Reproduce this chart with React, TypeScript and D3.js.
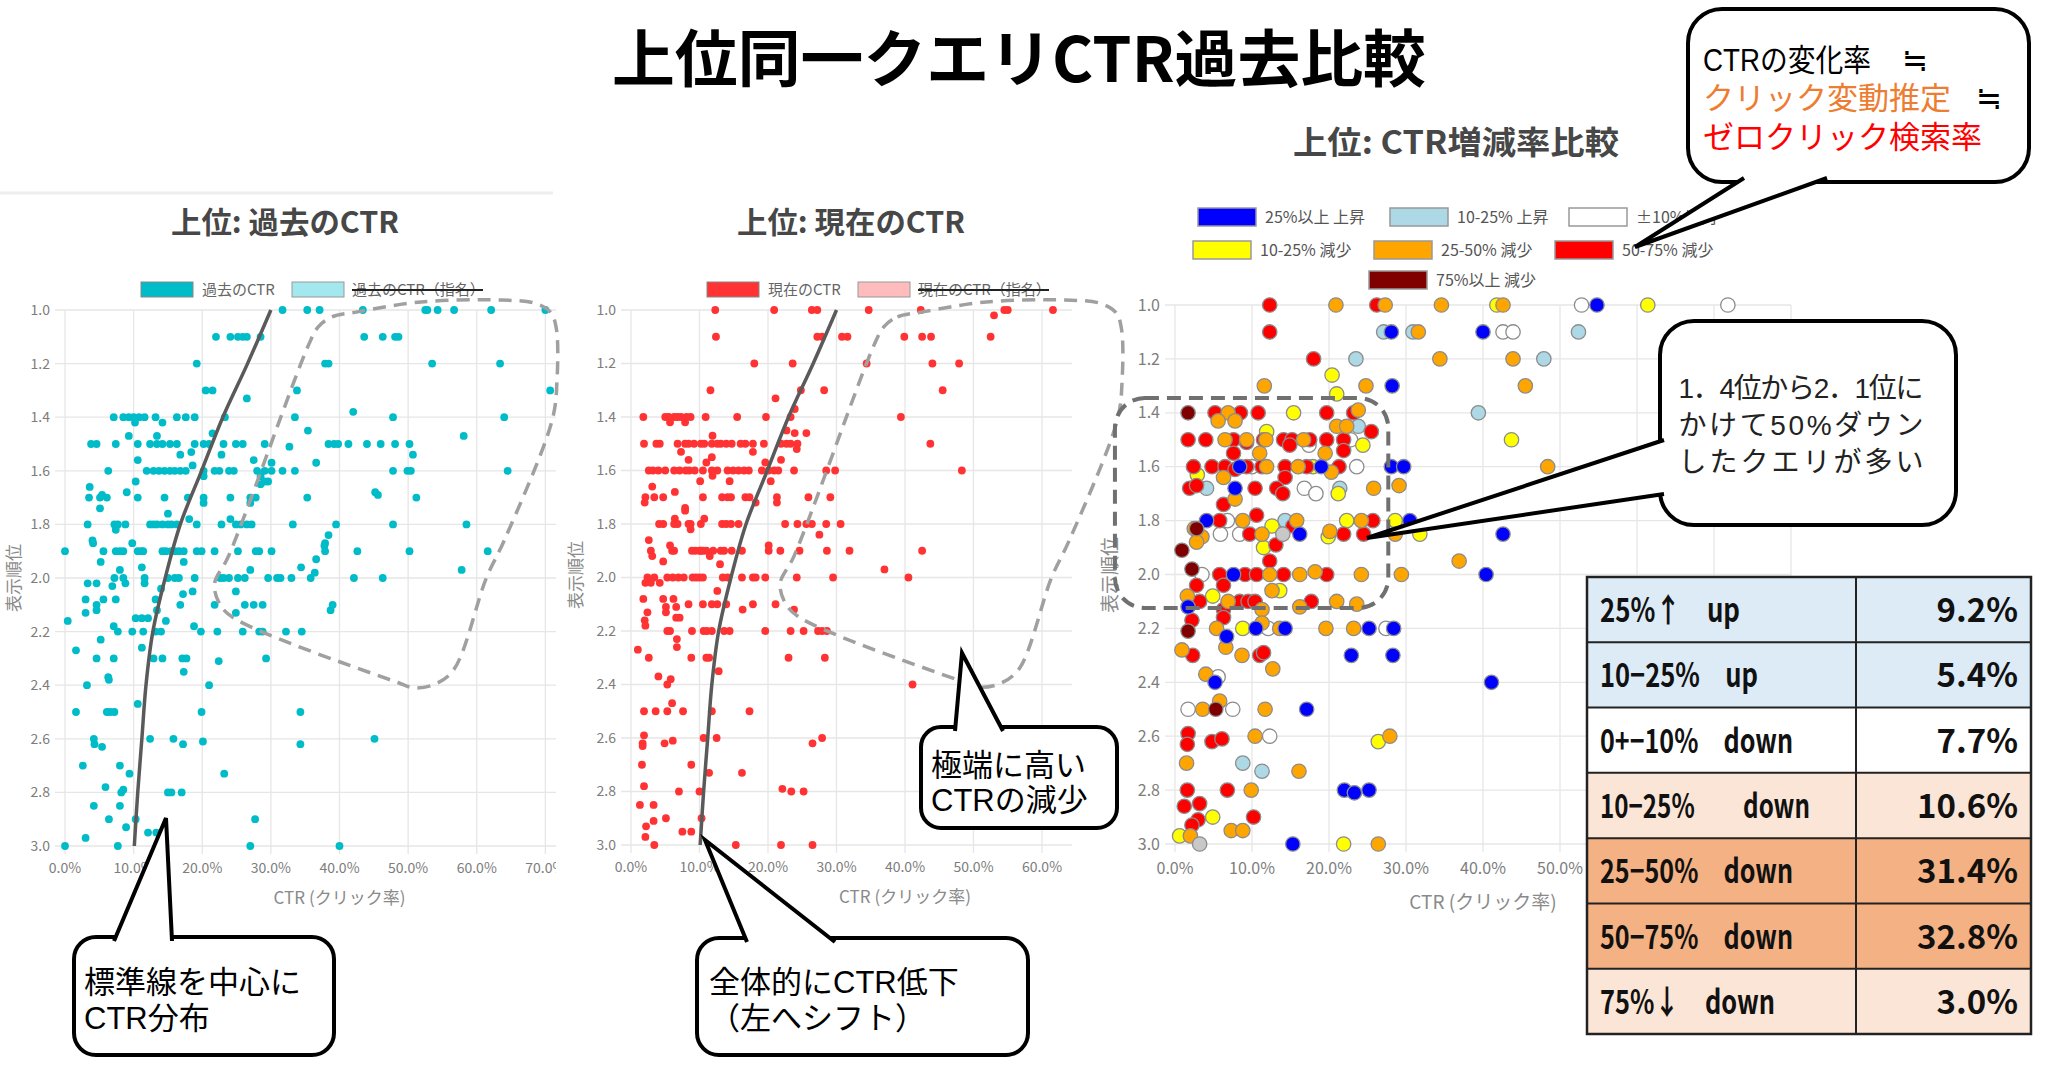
import { useEffect, useRef } from 'react';
import * as d3 from 'd3';

// 参照画像と同じキャンバス
const W = 2048;
const H = 1066;
const FONT = '"Noto Sans CJK JP", "Noto Sans", sans-serif';
// 吹き出し用: 欧文は細めの書体、和文はCJKにフォールバック
const NOTE_FONT = '"Liberation Sans Narrow", "Liberation Sans", "Noto Sans CJK JP", sans-serif';

type Row = [number, number[]]; // [表示順位, CTR(%)の一覧]
type Pt = [number, number];     // [CTR(%), 表示順位]

const posTicks = [1.0, 1.2, 1.4, 1.6, 1.8, 2.0, 2.2, 2.4, 2.6, 2.8, 3.0];
const ctrTicks = [0, 10, 20, 30, 40, 50, 60, 70, 80];

// 過去のCTR
const pastCtr: Row[] = [
  [1.0, [31.7, 35.3, 37.1, 43.4, 52.5, 52.8, 54.3, 56.7, 62.1, 70]],
  [1.1, [22.0, 24.1, 25.2, 25.9, 26.5, 28.5, 43.6, 46.3, 48.1, 48.6]],
  [1.2, [19.2, 37.9, 38.4, 53.5, 63.4]],
  [1.3, [20.5, 21.5, 33.8, 70.7]],
  [1.33, [26.5]],
  [1.38, [42]],
  [1.4, [7.1, 8.5, 9.3, 10.0, 10.8, 11.6, 13.2, 16.3, 17.6, 18.9, 23.3, 33.5, 47.8, 64]],
  [1.42, [10.2, 14.2]],
  [1.45, [35.4]],
  [1.46, [21.5]],
  [1.47, [9.3, 13.4, 58.1]],
  [1.5, [3.8, 4.6, 7.4, 10.6, 12.4, 13.4, 14.2, 15.3, 16.3, 18.9, 20.2, 21.0, 23.1, 24.9, 25.9, 29.1, 38.4, 39.2, 39.8, 41.3, 44.0, 46.0, 48.1, 50.2]],
  [1.51, [32.7]],
  [1.53, [18.4]],
  [1.54, [16.8, 22.8, 50.7]],
  [1.56, [10.6, 27.5]],
  [1.57, [30.1, 36.6]],
  [1.58, [18.6]],
  [1.6, [6.3, 11.9, 12.9, 13.7, 14.5, 15.3, 16.0, 16.8, 17.6, 20.2, 21.8, 22.5, 23.9, 24.6, 28.0, 29.1, 30.1, 31.7, 33.5, 47.8, 49.9, 50.4, 64.5]],
  [1.62, [20.2, 28.5]],
  [1.64, [10.3, 29.1, 29.6]],
  [1.65, [28.5]],
  [1.66, [3.6]],
  [1.68, [9.0, 45.2]],
  [1.69, [5.4, 45.6]],
  [1.7, [3.5, 5.1, 6.1, 10.6, 14.5, 17.9, 20.2, 24.1, 27.0, 27.8, 35.3, 51.2]],
  [1.72, [20.2, 27.0]],
  [1.74, [5.1]],
  [1.76, [15.0]],
  [1.78, [18.1, 24.1]],
  [1.8, [3.3, 7.2, 7.7, 8.8, 12.4, 12.9, 13.4, 14.2, 15.0, 15.5, 16.3, 19.2, 22.8, 24.9, 25.6, 26.5, 27.2, 33.2, 39.5, 47.8, 58.5]],
  [1.82, [7.4]],
  [1.84, [38.4]],
  [1.86, [4.0]],
  [1.87, [4.1, 9.8, 37.9]],
  [1.88, [37.8]],
  [1.9, [0, 5.6, 7.4, 8.0, 8.5, 10.6, 11.1, 11.4, 14.2, 14.7, 15.5, 16.0, 16.6, 17.3, 19.2, 19.9, 21.8, 25.2, 27.8, 28.3, 30.1, 37.9, 42.6, 50.2, 61.6]],
  [1.93, [36.6]],
  [1.94, [5.2, 17.3]],
  [1.96, [11.2, 34.4]],
  [1.97, [8.0, 27.0, 57.8]],
  [1.98, [36.4]],
  [2.0, [7.2, 8.5, 11.6, 15.0, 16.0, 16.6, 18.9, 22.6, 23.1, 23.9, 25.2, 26.2, 29.6, 30.9, 31.4, 33.0, 35.8, 42.1, 46.3]],
  [2.02, [3.3, 4.6, 8.8, 11.6]],
  [2.03, [6.9]],
  [2.04, [14.0]],
  [2.05, [18.6, 24.9]],
  [2.06, [17.2]],
  [2.08, [3.0, 5.6, 7.4, 13.2]],
  [2.1, [4.6, 16.8, 21.8, 26.2, 27.5, 28.8, 39.0]],
  [2.12, [4.6, 13.4, 38.7]],
  [2.13, [3.0, 24.9]],
  [2.15, [10.3, 11.2, 12.1]],
  [2.16, [0.4, 14.7]],
  [2.18, [7.1, 18.8]],
  [2.2, [7.7, 9.8, 11.4, 13.2, 14.0, 19.8, 22.2, 25.9, 28.3, 28.8, 32.2, 34.5]],
  [2.23, [5.2]],
  [2.26, [11.2]],
  [2.27, [1.6]],
  [2.3, [4.6, 7.1, 12.9, 14.2, 17.1, 17.7, 29.3]],
  [2.31, [22.4]],
  [2.35, [17.3]],
  [2.37, [6.3]],
  [2.38, [6.4]],
  [2.4, [3.2, 21.0]],
  [2.47, [10.6]],
  [2.5, [1.6, 6.1, 6.6, 7.2, 19.9, 34.3]],
  [2.6, [4.2, 12.4, 15.8, 45.1]],
  [2.61, [20.1]],
  [2.62, [4.3, 17.2, 34.3]],
  [2.63, [5.4]],
  [2.7, [2.6, 8.0]],
  [2.73, [9.4, 23.2]],
  [2.78, [5.9]],
  [2.79, [8.5]],
  [2.8, [8.2, 15.0, 15.5, 17.0]],
  [2.85, [4.2, 8.0]],
  [2.9, [6.4, 10.3, 27.7]],
  [2.93, [8.9]],
  [2.95, [12.1, 13.3]],
  [2.97, [3.0]],
  [3.0, [0, 7.7, 27.0, 40.0]],
];

// 現在のCTR
const currentCtr: Row[] = [
  [1.0, [12.3, 20.9, 26.4, 27.2, 34.7, 42.3, 54.5, 55.0, 61.6]],
  [1.02, [53.0]],
  [1.1, [12.4, 27.2, 27.9, 30.8, 31.6, 39.9, 42.5, 43.8, 52.5]],
  [1.2, [18.0, 23.6, 34.4, 44.0, 47.9]],
  [1.3, [11.6, 24.8, 28.2, 45.5]],
  [1.33, [21.1]],
  [1.37, [23.9]],
  [1.4, [1.8, 5.0, 5.5, 6.3, 6.8, 7.3, 8.1, 8.7, 10.9, 15.5, 19.7, 23.3, 39.4]],
  [1.42, [5.7, 7.9]],
  [1.45, [22.7]],
  [1.46, [23.9, 25.6]],
  [1.47, [11.9]],
  [1.5, [1.9, 3.7, 4.2, 6.8, 7.9, 8.4, 9.2, 10.2, 10.7, 11.8, 12.6, 13.1, 13.9, 14.7, 16.0, 16.7, 17.8, 19.4, 21.9, 22.7, 23.3, 24.3, 43.7]],
  [1.52, [24.2]],
  [1.53, [7.3, 17.8]],
  [1.55, [11.8]],
  [1.56, [8.4, 21.9]],
  [1.57, [11.0, 19.6]],
  [1.6, [2.6, 3.2, 4.0, 5.0, 6.3, 7.1, 8.0, 8.5, 9.3, 10.5, 11.8, 12.6, 14.1, 14.9, 15.7, 16.5, 17.2, 19.1, 20.1, 20.9, 21.5, 23.8, 28.5, 29.8, 48.3]],
  [1.62, [11.9]],
  [1.64, [10.1, 14.4, 20.4]],
  [1.66, [3.1]],
  [1.68, [6.4]],
  [1.7, [2.1, 3.4, 4.7, 10.5, 13.3, 14.1, 14.6, 16.7, 17.3, 21.3, 25.9, 29.1]],
  [1.72, [2.0, 18.2, 21.3]],
  [1.74, [7.9]],
  [1.75, [7.9]],
  [1.78, [6.4, 10.7]],
  [1.8, [4.1, 4.7, 6.3, 6.8, 8.4, 8.7, 10.2, 13.3, 13.9, 14.6, 15.7, 22.5, 24.3, 25.6, 26.4, 28.5, 30.6]],
  [1.82, [8.7]],
  [1.84, [27.5]],
  [1.86, [2.6]],
  [1.88, [5.7, 20.1]],
  [1.9, [2.9, 6.0, 6.3, 8.9, 9.4, 10.0, 10.2, 10.5, 11.0, 12.0, 13.1, 13.6, 14.7, 16.2, 20.1, 21.8, 24.6, 28.6, 31.9, 42.5]],
  [1.92, [3.1, 11.5]],
  [1.94, [4.7]],
  [1.95, [13.0]],
  [1.97, [37.0]],
  [2.0, [2.4, 3.4, 5.3, 6.1, 6.9, 7.7, 9.0, 9.5, 10.0, 10.5, 13.4, 14.1, 16.2, 17.8, 18.2, 19.6, 24.2, 29.5, 40.5]],
  [2.02, [2.1, 2.9, 4.2]],
  [2.05, [12.6]],
  [2.08, [1.8, 4.7, 6.2]],
  [2.1, [8.4, 10.5, 11.8, 12.6, 13.9, 17.8, 21.1]],
  [2.11, [5.1, 6.6]],
  [2.12, [16.3, 23.8]],
  [2.13, [2.4, 5.1]],
  [2.15, [6.6, 7.1]],
  [2.16, [2.0]],
  [2.18, [2.1]],
  [2.2, [5.3, 5.7, 8.9, 10.6, 11.1, 11.8, 13.6, 14.4, 19.6, 23.3, 25.2, 27.3, 27.9, 28.6]],
  [2.23, [6.7]],
  [2.26, [6.7]],
  [2.27, [1.0]],
  [2.3, [2.6, 8.8, 11.0, 11.4, 23.0, 28.3]],
  [2.35, [12.8]],
  [2.37, [4.0]],
  [2.38, [5.8]],
  [2.4, [5.3, 41.1]],
  [2.47, [6.0]],
  [2.5, [1.9, 3.6, 5.3, 7.6, 11.8, 17.3]],
  [2.59, [1.9]],
  [2.6, [10.6, 12.5, 27.9]],
  [2.61, [6.1]],
  [2.62, [1.7, 4.9, 26.5]],
  [2.63, [1.7]],
  [2.7, [1.6, 8.8]],
  [2.73, [11.4, 16.2]],
  [2.78, [1.9]],
  [2.79, [22.1]],
  [2.8, [7.0, 10.0, 23.4, 25.2]],
  [2.85, [1.3, 3.3]],
  [2.9, [5.1, 10.3]],
  [2.91, [3.3]],
  [2.93, [2.2]],
  [2.95, [7.5, 8.8]],
  [2.97, [2.1]],
  [3.0, [3.4, 15.3, 21.9, 26.5]],
];

// 標準線 [表示順位, CTR(%)]
const baselineCtr: Pt[] = [
  [1.0, 30], [1.2, 26.6], [1.4, 23], [1.6, 19.9], [1.8, 16.8], [2.0, 14.6],
  [2.2, 12.8], [2.4, 11.8], [2.6, 11.2], [2.8, 10.6], [3.0, 10.1],
];

// 極端に高いCTRの領域 [CTR(%), 表示順位]
const highCtrZone: Pt[] = [
  [36.9, 1.063], [38.9, 1.026], [42.6, 1.007], [51.9, 0.97], [63.4, 0.963], [68.5, 0.975],
  [70.8, 1.01], [71.6, 1.07], [71.7, 1.26], [71.0, 1.41], [64.0, 1.86], [61.4, 2.0],
  [56.7, 2.34], [54.0, 2.395], [50.9, 2.41], [48.5, 2.39], [24.4, 2.146], [22.4, 2.09],
  [21.8, 2.02], [23.8, 1.92], [35.5, 1.13],
];

// CTR増減率 [CTR(%), 表示順位]
const changeUp25: Pt[] = [
  [54.8, 1.0], [28.1, 1.1], [40, 1.1], [28.2, 1.3], [8.4, 1.6], [19, 1.6], [28.1, 1.6], [29.7, 1.6],
  [7.8, 1.68], [4.1, 1.8], [30.5, 1.8], [16.2, 1.85], [42.6, 1.85], [7.6, 2.0], [40.4, 2.0],
  [1.7, 2.12], [10.5, 2.2], [14.3, 2.2], [25.2, 2.2], [28.4, 2.2], [6.7, 2.23], [22.9, 2.3],
  [28.3, 2.3], [5.2, 2.4], [41.1, 2.4], [17.1, 2.5], [22, 2.8], [23.3, 2.81], [25.2, 2.8], [15.3, 3.0],
];
const changeUp10: Pt[] = [
  [27.1, 1.1], [30.9, 1.1], [52.4, 1.1], [23.5, 1.2], [47.9, 1.2], [39.4, 1.4], [23.8, 1.45],
  [4.1, 1.68], [21.4, 1.68], [14.3, 1.8], [8.8, 2.7], [11.3, 2.73],
];
const changeFlat: Pt[] = [
  [52.8, 1.0], [71.8, 1.0], [42.6, 1.1], [43.9, 1.1], [22.8, 1.5], [17.4, 1.52], [10, 1.6], [23.6, 1.6],
  [16.8, 1.68], [18.3, 1.7], [6.8, 1.8], [5.9, 1.85], [8.4, 1.85], [3.5, 2.0], [12.1, 2.2], [27.4, 2.2],
  [5.6, 2.38], [1.7, 2.5], [7.5, 2.5], [12.3, 2.6],
];
const changeDown10: Pt[] = [
  [41.8, 1.0], [61.4, 1.0], [20.4, 1.26], [21, 1.33], [15.4, 1.4], [11.9, 1.47], [24.4, 1.52],
  [43.7, 1.5], [17.9, 1.6], [2.9, 1.63], [21.2, 1.7], [12.6, 1.82], [22.3, 1.8], [28.6, 1.8],
  [19.9, 1.86], [31.8, 1.85], [11.5, 1.9], [4.9, 2.08], [13.6, 2.06], [8.8, 2.2], [26.4, 2.62],
  [4.9, 2.9], [0.6, 2.97], [21.9, 3.0],
];
const changeDown25: Pt[] = [
  [20.9, 1.0], [27.3, 1.0], [34.6, 1.0], [42.6, 1.0], [31.6, 1.1], [34.4, 1.2], [43.9, 1.2],
  [11.6, 1.3], [24.8, 1.3], [45.5, 1.3], [6.9, 1.4], [23.8, 1.39], [5.6, 1.43], [7.8, 1.43],
  [21, 1.45], [22.3, 1.45], [6.5, 1.5], [9.3, 1.5], [11.8, 1.5], [16.7, 1.5], [11, 1.55],
  [19.5, 1.55], [11.9, 1.6], [16, 1.6], [48.4, 1.6], [20.3, 1.62], [6.3, 1.64], [25.8, 1.68],
  [29.1, 1.67], [7.8, 1.72], [8.8, 1.8], [15.8, 1.8], [24.2, 1.8], [2.5, 1.83], [3.5, 1.86],
  [11.3, 1.85], [20.1, 1.84], [28.6, 1.85], [2.8, 1.88], [36.9, 1.95], [12.3, 2.0], [16.2, 2.0],
  [18.2, 1.99], [24.2, 2.0], [29.4, 2.0], [1.6, 2.08], [12.6, 2.06], [6.9, 2.1], [16.2, 2.12],
  [21, 2.1], [23.6, 2.11], [11.3, 2.13], [5.4, 2.2], [13.6, 2.2], [19.6, 2.2], [23.2, 2.2],
  [11.3, 2.18], [6.6, 2.27], [0.9, 2.28], [8.7, 2.3], [12.7, 2.35], [4, 2.37], [3.6, 2.5],
  [11.7, 2.5], [5.8, 2.47], [10.4, 2.6], [27.9, 2.6], [1.5, 2.7], [16.1, 2.73], [9.9, 2.8],
  [7.3, 2.95], [8.8, 2.95], [2, 2.97], [26.4, 3.0],
];
const changeDown50: Pt[] = [
  [12.3, 1.0], [26.2, 1.0], [12.3, 1.1], [18, 1.2], [5.2, 1.4], [8.5, 1.4], [10.8, 1.4], [19.7, 1.4],
  [23.2, 1.4], [25.5, 1.47], [1.7, 1.5], [4, 1.5], [7.6, 1.5], [9.3, 1.51], [11.5, 1.5], [14.1, 1.5],
  [15.2, 1.5], [17.5, 1.5], [19.7, 1.5], [21.9, 1.5], [14.9, 1.52], [7.6, 1.55], [21.9, 1.54],
  [2.4, 1.6], [4.8, 1.6], [6.5, 1.6], [7.8, 1.61], [9.3, 1.6], [11.3, 1.6], [14.3, 1.6], [17.1, 1.6],
  [21.3, 1.6], [14.3, 1.64], [1.9, 1.68], [2.8, 1.67], [10.4, 1.68], [13.2, 1.68], [14, 1.7],
  [6.3, 1.74], [5.8, 1.8], [10.6, 1.78], [15.3, 1.82], [25.7, 1.8], [9.7, 1.85], [21.9, 1.85],
  [24.5, 1.85], [13.1, 1.89], [12.3, 1.95], [5.8, 2.0], [9.1, 2.0], [10.6, 2.0], [14.1, 2.0],
  [19.7, 2.0], [2.8, 2.04], [6.3, 2.04], [3.2, 2.1], [8.4, 2.1], [9.5, 2.1], [10.4, 2.1], [17.7, 2.1],
  [6.3, 2.13], [2.2, 2.17], [6.3, 2.16], [2.3, 2.3], [11, 2.3], [11.5, 2.29], [1.7, 2.59],
  [1.6, 2.63], [4.8, 2.62], [6.1, 2.61], [1.6, 2.8], [6.8, 2.8], [1.2, 2.86], [3.2, 2.85],
  [10.2, 2.9], [3, 2.91], [2.2, 2.93],
];
const changeDown75: Pt[] = [[1.7, 1.4], [2.8, 1.83], [0.9, 1.91], [2.2, 1.98], [1.7, 2.21], [5.3, 2.5]];
const changeOther: Pt[] = [[14, 1.85], [3.2, 3.0]];

// 集計表
const tableLabels = ['25%↑　up', '10−25%　up', '0+−10%　down', '10−25%　　down', '25−50%　down', '50−75%　down', '75%↓　down'];
const tableShares = [9.2, 5.4, 7.7, 10.6, 31.4, 32.8, 3.0];

const TEAL = '#00bcc8';
const RED = '#ff3333';

const rowsToPoints = (rows: Row[]): Pt[] => rows.flatMap(([pos, cs]) => cs.map(c => [c, pos] as Pt));

// パネル共通の軸・グリッド
const drawPanel = (svg: any, p: any) => {
  const x = d3.scaleLinear().domain([0, 80]).range([p.left, p.right]);
  const y = d3.scaleLinear().domain([1, 3]).range([p.top, p.bottom]);
  const g = svg.append('g').attr('font-family', FONT);
  if (p.clip) g.attr('clip-path', `url(#${p.clip})`);

  g.append('g').selectAll('line').data(posTicks).join('line')
    .attr('x1', x(0) - 10).attr('x2', x(p.gridMax))
    .attr('y1', (d: number) => y(d)).attr('y2', (d: number) => y(d))
    .attr('stroke', '#e6e6e6').attr('stroke-width', 1.3);
  g.append('g').selectAll('line').data(ctrTicks.filter(d => d <= p.gridMax)).join('line')
    .attr('x1', (d: number) => x(d)).attr('x2', (d: number) => x(d))
    .attr('y1', y(1)).attr('y2', y(3) + 8)
    .attr('stroke', '#e6e6e6').attr('stroke-width', 1.3);

  g.append('g').selectAll('text').data(posTicks).join('text')
    .attr('x', x(0) - 15).attr('y', (d: number) => y(d)).attr('dy', '0.35em')
    .attr('text-anchor', 'end').attr('font-size', p.tick).attr('fill', '#7d7d7d')
    .text((d: number) => d.toFixed(1));
  g.append('g').selectAll('text').data(ctrTicks.filter(d => d <= p.labelMax)).join('text')
    .attr('x', (d: number) => x(d)).attr('y', y(3) + 22 + (p.tick - 14)).attr('dy', '0.35em')
    .attr('text-anchor', 'middle').attr('font-size', p.tick).attr('fill', '#7d7d7d')
    .text((d: number) => `${d.toFixed(1)}%`);

  g.append('text')
    .attr('x', (p.left + p.right) / 2).attr('y', y(3) + p.titleGap).attr('dy', '0.35em')
    .attr('text-anchor', 'middle').attr('font-size', p.axisFs).attr('fill', '#8a8a8a')
    .text('CTR (クリック率)');
  g.append('text')
    .attr('transform', `translate(${p.yTitle[0]},${p.yTitle[1]}) rotate(-90)`)
    .attr('dy', '0.35em').attr('text-anchor', 'middle')
    .attr('font-size', p.axisFs).attr('fill', '#8a8a8a')
    .text('表示順位');
  return { g, x, y };
};

const drawCallout = (svg: any, c: any) => {
  svg.append('rect')
    .attr('x', c.x).attr('y', c.y).attr('width', c.w).attr('height', c.h).attr('rx', c.r)
    .attr('fill', '#fff').attr('stroke', '#000').attr('stroke-width', 4);
  const [b1, apex, b2] = c.tail;
  svg.append('path')
    .attr('d', `M${b1[0]},${b1[1]}L${apex[0]},${apex[1]}L${b2[0]},${b2[1]}`)
    .attr('fill', '#fff').attr('stroke', '#000').attr('stroke-width', 4)
    .attr('stroke-linejoin', 'miter');
};

// 複数行テキストを1つの<text>にまとめる
const multiText = (svg: any, fs: number, lines: any[], anchor = 'start') => {
  const t = svg.append('text').attr('font-family', NOTE_FONT).attr('font-size', fs)
    .attr('fill', '#000').attr('text-anchor', anchor);
  lines.forEach(l => {
    const ts = t.append('tspan').attr('x', l.x).attr('y', l.y).attr('dy', '0.35em').text(l.s);
    if (l.fill) ts.attr('fill', l.fill);
    if (l.len) ts.attr('textLength', l.len).attr('lengthAdjust', l.adjust || 'spacingAndGlyphs');
  });
  return t;
};

export default function App() {
  const ref = useRef<SVGSVGElement | null>(null);

  useEffect(() => {
    if (!ref.current) return;
    const svg = d3.select(ref.current);
    svg.selectAll('*').remove();
    svg.append('rect').attr('width', W).attr('height', H).attr('fill', '#fff');

    const defs = svg.append('defs');
    defs.append('clipPath').attr('id', 'clipPast').append('rect')
      .attr('x', 0).attr('y', 0).attr('width', 556).attr('height', H);
    defs.append('clipPath').attr('id', 'clipNow').append('rect')
      .attr('x', 560).attr('y', 0).attr('width', 513).attr('height', H);

    svg.append('line').attr('x1', 0).attr('x2', 553).attr('y1', 193).attr('y2', 193)
      .attr('stroke', '#eeeeee').attr('stroke-width', 3);

    // メインタイトル
    svg.append('text')
      .attr('x', 1019).attr('y', 60).attr('dy', '0.35em').attr('text-anchor', 'middle')
      .attr('font-family', FONT).attr('font-weight', 700).attr('font-size', 62)
      .attr('textLength', 814).attr('lengthAdjust', 'spacingAndGlyphs')
      .text('上位同一クエリCTR過去比較');

    const subtitle = (x: number, y: number, s: string, len: number, fs: number) =>
      svg.append('text')
        .attr('x', x).attr('y', y).attr('dy', '0.35em').attr('text-anchor', 'middle')
        .attr('font-family', FONT).attr('font-weight', 700).attr('font-size', fs)
        .attr('fill', '#474747').attr('textLength', len).attr('lengthAdjust', 'spacingAndGlyphs')
        .text(s);
    subtitle(285, 222, '上位: 過去のCTR', 228, 30);
    subtitle(851, 222, '上位: 現在のCTR', 228, 30);
    subtitle(1456, 143, '上位: CTR増減率比較', 326, 32);

    const line = (x: any, y: any) => d3.line<Pt>()
      .x(d => x(d[1])).y(d => y(d[0])).curve(d3.curveCatmullRom.alpha(0.5));
    const zone = (x: any, y: any) => d3.line<Pt>()
      .x(d => x(d[0])).y(d => y(d[1])).curve(d3.curveCatmullRomClosed.alpha(0.5));

    // 過去 / 現在のCTR
    const panels = [
      { rows: pastCtr, color: TEAL, left: 65, right: 614, top: 310, bottom: 846, clip: 'clipPast', yTitle: [14, 578],
        gridMax: 80, labelMax: 70,
        legend: { x: 141, label: '過去のCTR', named: '過去のCTR（指名）', light: '#a3e8ee', namedW: 131 } },
      { rows: currentCtr, color: RED, left: 631, right: 1179, top: 310, bottom: 845, clip: 'clipNow', yTitle: [576, 575],
        gridMax: 64.4, labelMax: 60,
        legend: { x: 707, label: '現在のCTR', named: '現在のCTR（指名）', light: '#ffbcbc', namedW: 131 } },
    ];
    panels.forEach(p => {
      const { g, x, y } = drawPanel(svg, { ...p, tick: 14, axisFs: 17, titleGap: 52 });
      g.append('g').selectAll('circle').data(rowsToPoints(p.rows)).join('circle')
        .attr('cx', (d: Pt) => x(d[0])).attr('cy', (d: Pt) => y(d[1])).attr('r', 3.9)
        .attr('fill', p.color);
      g.append('path').attr('d', line(x, y)(baselineCtr))
        .attr('fill', 'none').attr('stroke', '#5a5a5a').attr('stroke-width', 3.5);
      svg.append('path').attr('d', zone(x, y)(highCtrZone))
        .attr('fill', 'none').attr('stroke', '#a0a0a0').attr('stroke-width', 3.5)
        .attr('stroke-dasharray', '13 8');

      // 凡例
      const lg = svg.append('g').attr('font-family', FONT).attr('font-size', 15).attr('fill', '#666');
      const lx = p.legend.x;
      lg.append('rect').attr('x', lx).attr('y', 282).attr('width', 52).attr('height', 15)
        .attr('fill', p.color).attr('stroke', '#888').attr('stroke-width', 1);
      lg.append('text').attr('x', lx + 61).attr('y', 290).attr('dy', '0.35em').text(p.legend.label);
      lg.append('rect').attr('x', lx + 151).attr('y', 282).attr('width', 52).attr('height', 15)
        .attr('fill', p.legend.light).attr('stroke', '#999').attr('stroke-width', 1);
      lg.append('text').attr('x', lx + 211).attr('y', 290).attr('dy', '0.35em').text(p.legend.named);
      lg.append('line').attr('x1', lx + 211).attr('x2', lx + 211 + p.legend.namedW)
        .attr('y1', 290).attr('y2', 290).attr('stroke', '#222').attr('stroke-width', 2);
    });

    // CTR増減率比較 (60%以上の目盛りは表の下に隠れる)
    const { g: gc, x: xc, y: yc } = drawPanel(svg, {
      left: 1175, right: 1791, top: 305, bottom: 844, gridMax: 80, labelMax: 50, tick: 16, axisFs: 19,
      titleGap: 58, yTitle: [1110, 575],
    });
    const series = {
      up25: { label: '25%以上 上昇', color: '#0000ff', data: changeUp25 },
      up10: { label: '10-25% 上昇', color: '#add8e6', data: changeUp10 },
      flat: { label: '±10%以内', color: '#ffffff', data: changeFlat },
      down10: { label: '10-25% 減少', color: '#ffff00', data: changeDown10 },
      down25: { label: '25-50% 減少', color: '#ffa500', data: changeDown25 },
      down50: { label: '50-75% 減少', color: '#ff0000', data: changeDown50 },
      down75: { label: '75%以上 減少', color: '#800000', data: changeDown75 },
      other: { label: '', color: '#c8c8c8', data: changeOther },
    };
    const drawOrder = ['up10', 'flat', 'down10', 'down50', 'down25', 'up25', 'down75', 'other'];
    drawOrder.forEach(k => {
      const s = (series as any)[k];
      gc.append('g').selectAll('circle').data(s.data).join('circle')
        .attr('cx', (d: Pt) => xc(d[0])).attr('cy', (d: Pt) => yc(d[1])).attr('r', 7.2)
        .attr('fill', s.color).attr('stroke', '#8c8c8c').attr('stroke-width', 1.3);
    });
    const legendPos: [string, number, number][] = [
      ['up25', 1198, 217], ['up10', 1390, 217], ['flat', 1569, 217],
      ['down10', 1193, 250], ['down25', 1374, 250], ['down50', 1555, 250], ['down75', 1369, 280],
    ];
    const rl = svg.append('g').attr('font-family', FONT).attr('font-size', 16).attr('fill', '#555');
    legendPos.forEach(([k, lx, ly]) => {
      const s = (series as any)[k];
      rl.append('rect').attr('x', lx).attr('y', ly - 9).attr('width', 58).attr('height', 18)
        .attr('fill', s.color).attr('stroke', '#999').attr('stroke-width', 1.5);
      rl.append('text').attr('x', lx + 67).attr('y', ly).attr('dy', '0.35em').text(s.label);
    });
    // 1.4〜2.1位の集中領域
    const fx0 = xc(-7.8), fx1 = xc(27.7), fy0 = yc(1.345), fy1 = yc(2.124);
    svg.append('rect').attr('x', fx0).attr('y', fy0).attr('width', fx1 - fx0).attr('height', fy1 - fy0)
      .attr('rx', 30).attr('fill', 'none').attr('stroke', '#707070').attr('stroke-width', 4)
      .attr('stroke-dasharray', '14 8');

    // 吹き出し
    drawCallout(svg, { x: 74, y: 937, w: 260, h: 118, r: 22, tail: [[114, 941], [166, 818], [172, 941]] });
    multiText(svg, 31, [{ x: 84, y: 982, s: '標準線を中心に' }, { x: 84, y: 1018, s: 'CTR分布' }]);

    drawCallout(svg, { x: 697, y: 938, w: 331, h: 117, r: 22, tail: [[747, 942], [705, 840], [835, 942]] });
    multiText(svg, 31, [{ x: 709, y: 982, s: '全体的にCTR低下' }, { x: 709, y: 1018, s: '（左へシフト）' }]);

    drawCallout(svg, { x: 921, y: 727, w: 196, h: 101, r: 20, tail: [[955, 731], [962, 653], [1003, 731]] });
    multiText(svg, 31, [{ x: 931, y: 765, s: '極端に高い' }, { x: 931, y: 800, s: 'CTRの減少' }]);

    drawCallout(svg, { x: 1688, y: 9, w: 341, h: 173, r: 34, tail: [[1744, 178], [1635, 247], [1827, 178]] });
    multiText(svg, 31, [
      { x: 1703, y: 60, s: 'CTRの変化率', len: 168 },
      { x: 1902, y: 60, s: '≒' },
      { x: 1703, y: 98, s: 'クリック変動推定', fill: '#ed7d31', len: 248 },
      { x: 1976, y: 98, s: '≒' },
      { x: 1703, y: 137, s: 'ゼロクリック検索率', fill: '#ff0000', len: 279 },
    ]);

    drawCallout(svg, { x: 1660, y: 321, w: 296, h: 204, r: 34, tail: [[1664, 440], [1367, 538], [1664, 494]] });
    multiText(svg, 28, ['1．4位から2．1位に', 'かけて50%ダウン', 'したクエリが多い'].map((s, i) => ({
      x: 1801, y: 388 + i * 37, s, len: 245, adjust: 'spacing', fill: '#222',
    })), 'middle');

    // 集計表
    const fills = ['#ddebf7', '#ddebf7', '#ffffff', '#fbe5d6', '#f4b183', '#f4b183', '#fbe5d6'];
    const labelW = [140, 158, 193, 210, 193, 193, 175];
    const ty = d3.scaleBand<number>().domain(d3.range(tableLabels.length)).range([577, 1034]);
    const tx0 = 1587, txm = 1856, tx1 = 2031;
    const tg = svg.append('g').attr('font-family', FONT);
    tableLabels.forEach((lab, i) => {
      const y0 = ty(i) as number;
      tg.append('rect').attr('x', tx0).attr('y', y0).attr('width', tx1 - tx0).attr('height', ty.bandwidth())
        .attr('fill', fills[i]);
      tg.append('text').attr('x', 1600).attr('y', y0 + ty.bandwidth() / 2 + 1).attr('dy', '0.35em')
        .attr('font-size', 33).attr('font-weight', 700).attr('fill', '#111')
        .attr('textLength', labelW[i]).attr('lengthAdjust', 'spacingAndGlyphs').text(lab);
      tg.append('text').attr('x', 2018).attr('y', y0 + ty.bandwidth() / 2 + 1).attr('dy', '0.35em')
        .attr('text-anchor', 'end').attr('font-size', 33).attr('font-weight', 700).attr('fill', '#111')
        .text(`${tableShares[i].toFixed(1)}%`);
    });
    tg.append('g').selectAll('line').data(d3.range(1, tableLabels.length)).join('line')
      .attr('x1', tx0).attr('x2', tx1).attr('y1', (d: number) => ty(d) as number).attr('y2', (d: number) => ty(d) as number)
      .attr('stroke', '#222').attr('stroke-width', 2);
    tg.append('line').attr('x1', txm).attr('x2', txm).attr('y1', 577).attr('y2', 1034)
      .attr('stroke', '#222').attr('stroke-width', 2);
    tg.append('rect').attr('x', tx0).attr('y', 577).attr('width', tx1 - tx0).attr('height', 1034 - 577)
      .attr('fill', 'none').attr('stroke', '#222').attr('stroke-width', 2.5);
  }, []);

  return (
    <svg
      ref={ref}
      width={W}
      height={H}
      style={{ position: 'absolute', left: 0, top: 0, display: 'block' }}
    />
  );
}
